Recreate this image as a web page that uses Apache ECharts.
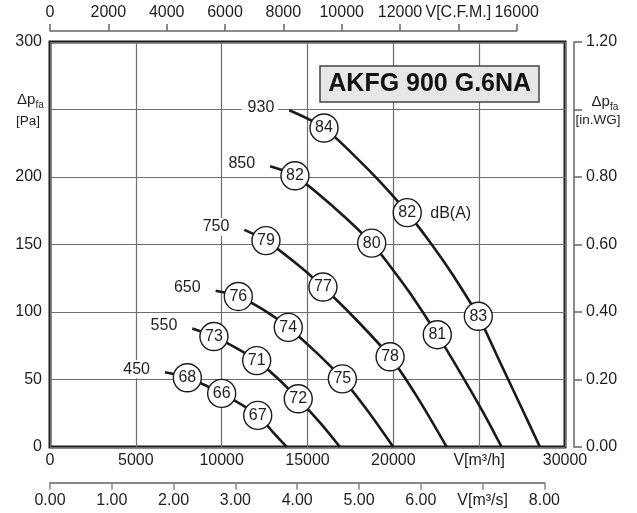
<!DOCTYPE html>
<html><head><meta charset="utf-8">
<script src="https://cdn.jsdelivr.net/npm/echarts@6/dist/echarts.min.js"></script>
<style>html,body{margin:0;padding:0;background:#fff}#c{width:637px;height:513px}</style>
</head><body><div id="c"></div>
<script>
// ---- data ----
const speeds = ['930', '850', '750', '650', '550', '450'];
const curve930 = [[13940,249.4],[15960,236.3],[17870,214.0],[19220,196.5],[20810,173.6],[22330,148.4],[23490,127.0],[24950,96.8],[26210,63.0],[27380,31.5],[28540,0]];
const curve850 = [[12820,208.0],[14270,200.9],[16500,178.0],[18740,151.0],[20000,130.8],[20970,114.0],[22560,83.2],[23880,55.5],[25240,25.5],[26310,0]];
const curve750 = [[11320,160.8],[12580,152.9],[14560,133.7],[15900,118.5],[17670,96.5],[19810,66.8],[21360,37.7],[23110,0]];
const curve650 = [[9650,115.7],[10970,111.5],[12420,101.7],[13880,88.6],[15540,69.7],[17030,50.5],[18450,27.8],[20000,0]];
const curve550 = [[8290,87.7],[9550,81.8],[10680,74.5],[12040,64.0],[13210,51.5],[14460,35.7],[15730,18.0],[16890,0]];
const curve450 = [[6700,55.4],[8000,51.3],[10000,39.7],[12100,23.4],[13010,10.6],[13790,0]];

const db930 = [[15960,236.3,84],[20810,173.6,82],[24950,96.8,83]];
const db850 = [[14270,200.9,82],[18740,151.0,80],[22560,83.2,81]];
const db750 = [[12580,152.9,79],[15900,118.5,77],[19810,66.8,78]];
const db650 = [[10970,111.5,76],[13880,88.6,74],[17030,50.5,75]];
const db550 = [[9550,81.8,73],[12040,64.0,71],[14460,35.7,72]];
const db450 = [[8000,51.3,68],[10000,39.7,66],[12100,23.4,67]];

const m3hLabels  = ['0','5000','10000','15000','20000','V[m³/h]','30000'];
const cfmLabels  = ['0','2000','4000','6000','8000','10000','12000','V[C.F.M.]','16000'];
const m3sLabels  = ['0.00','1.00','2.00','3.00','4.00','5.00','6.00','V[m³/s]','8.00'];
const inwgLabels = ['0.00','0.20','0.40','0.60','0.80','','1.20'];
const paLabels   = ['0','50','100','150','200','','300'];
const titleText = 'AKFG 900 G.6NA';
const dbUnit = 'dB(A)';

// ---- chart ----
const FONT = '"Liberation Sans", Arial, Helvetica, sans-serif';
const TXT = '#1e1e1e';
const curves = [curve930, curve850, curve750, curve650, curve550, curve450];
const dbs = [db930, db850, db750, db650, db550, db450];

const lab = (arr, step) => (v) => { const i = Math.round(v / step); return arr[i] !== undefined ? arr[i] : ''; };
const axLabel = (extra) => Object.assign({ fontSize: 16, color: TXT, fontFamily: FONT }, extra);

const series = [];
curves.forEach((c) => {
  series.push({
    type: 'line', xAxisIndex: 0, yAxisIndex: 0, data: c,
    smooth: 0.3, symbol: 'none', silent: true,
    lineStyle: { color: '#1a1a1a', width: 2.6 }, z: 3
  });
});
const circleData = [];
dbs.forEach(d => d.forEach(p => circleData.push(p)));
series.push({
  type: 'scatter', xAxisIndex: 0, yAxisIndex: 0, data: circleData,
  symbol: 'circle', symbolSize: 28, silent: true, z: 6,
  itemStyle: { color: '#fff', borderColor: '#1a1a1a', borderWidth: 1.4, opacity: 1 },
  label: { show: true, position: 'inside', formatter: p => String(p.value[2]),
    fontSize: 16, color: TXT, fontFamily: FONT }
});
series.push({
  type: 'scatter', xAxisIndex: 0, yAxisIndex: 0,
  data: curves.map((c, i) => [c[0][0], c[0][1], speeds[i]]),
  symbolSize: 0, silent: true, z: 7,
  itemStyle: { opacity: 1, color: '#fff' },
  label: { show: true, position: 'left', distance: 11, offset: [0, -3],
    formatter: p => p.value[2], backgroundColor: '#fff', padding: [1, 4, 1, 6],
    fontSize: 16, color: TXT, fontFamily: FONT }
});
series.push({
  type: 'scatter', xAxisIndex: 0, yAxisIndex: 0,
  data: [[db930[1][0], db930[1][1]]],
  symbolSize: 0, silent: true, z: 7,
  itemStyle: { opacity: 1, color: '#fff' },
  label: { show: true, position: 'right', distance: 23, offset: [0, 1],
    formatter: dbUnit, fontSize: 16, color: TXT, fontFamily: FONT }
});

const option = {
  animation: false,
  backgroundColor: '#fff',
  grid: [
    { left: 50, top: 42, width: 515, height: 405, show: true, borderColor: '#1a1a1a', borderWidth: 3, backgroundColor: 'rgba(0,0,0,0)' },
    { left: 50, top: 30, width: 466.7, height: 1 },
    { left: 50, top: 481.7, width: 494.4, height: 1 },
    { left: 574, top: 42, width: 1, height: 405 }
  ],
  xAxis: [
    { gridIndex: 0, type: 'value', min: 0, max: 30000, interval: 5000, position: 'bottom',
      axisLine: { show: false }, axisTick: { show: false },
      splitLine: { show: true, lineStyle: { color: '#6e6e6e', width: 1.2 } },
      axisLabel: axLabel({ margin: 6, formatter: lab(m3hLabels, 5000) }) },
    { gridIndex: 1, type: 'value', min: 0, max: 16000, interval: 2000, position: 'top',
      axisLine: { show: true, lineStyle: { color: '#666', width: 1.5 } },
      axisTick: { show: true, length: 7, lineStyle: { color: '#666', width: 1.5 } },
      splitLine: { show: false },
      axisLabel: axLabel({ margin: 9, formatter: lab(cfmLabels, 2000) }) },
    { gridIndex: 2, type: 'value', min: 0, max: 8, interval: 1, position: 'bottom',
      axisLine: { show: true, lineStyle: { color: '#888', width: 2 } },
      axisTick: { show: true, length: 7, lineStyle: { color: '#888', width: 1.5 } },
      splitLine: { show: false },
      axisLabel: axLabel({ margin: 10, formatter: lab(m3sLabels, 1) }) },
    { gridIndex: 3, type: 'value', show: false }
  ],
  yAxis: [
    { gridIndex: 0, type: 'value', min: 0, max: 300, interval: 50,
      axisLine: { show: false }, axisTick: { show: false },
      splitLine: { show: true, lineStyle: { color: '#6e6e6e', width: 1.2 } },
      axisLabel: axLabel({ margin: 8, formatter: lab(paLabels, 50) }) },
    { gridIndex: 1, type: 'value', show: false },
    { gridIndex: 2, type: 'value', show: false },
    { gridIndex: 3, type: 'value', min: 0, max: 1.2, interval: 0.2, position: 'right',
      axisLine: { show: true, lineStyle: { color: '#666', width: 1.5 } },
      axisTick: { show: true, length: 8, lineStyle: { color: '#666', width: 1.5 } },
      splitLine: { show: false },
      axisLabel: axLabel({ margin: 11, formatter: lab(inwgLabels, 0.2) }) }
  ],
  graphic: [
    { type: 'rect', z: 20, shape: { x: 320, y: 66, width: 219, height: 36 },
      style: { fill: '#e6e6e6', stroke: '#444', lineWidth: 1.5 } },
    { type: 'text', z: 21, x: 429.7, y: 84.5,
      style: { text: titleText, font: 'bold 25px ' + FONT, fill: '#111', align: 'center', verticalAlign: 'middle' } },
    { type: 'text', z: 21, x: 17, y: 100,
      style: { text: 'Δp', font: '15px ' + FONT, fill: TXT, align: 'left', verticalAlign: 'middle' } },
    { type: 'text', z: 21, x: 35.5, y: 105.5,
      style: { text: 'fa', font: '10px ' + FONT, fill: TXT, align: 'left', verticalAlign: 'middle' } },
    { type: 'text', z: 21, x: 16, y: 121,
      style: { text: '[Pa]', font: '13.5px ' + FONT, fill: TXT, align: 'left', verticalAlign: 'middle' } },
    { type: 'text', z: 21, x: 591.5, y: 102,
      style: { text: 'Δp', font: '15px ' + FONT, fill: TXT, align: 'left', verticalAlign: 'middle' } },
    { type: 'text', z: 21, x: 610, y: 107.5,
      style: { text: 'fa', font: '10px ' + FONT, fill: TXT, align: 'left', verticalAlign: 'middle' } },
    { type: 'text', z: 21, x: 575.5, y: 120.5,
      style: { text: '[in.WG]', font: '13.5px ' + FONT, fill: TXT, align: 'left', verticalAlign: 'middle' } }
  ],
  series: series
};
const chart = echarts.init(document.getElementById('c'), null, { renderer: 'canvas' });
chart.setOption(option);
</script></body></html>
